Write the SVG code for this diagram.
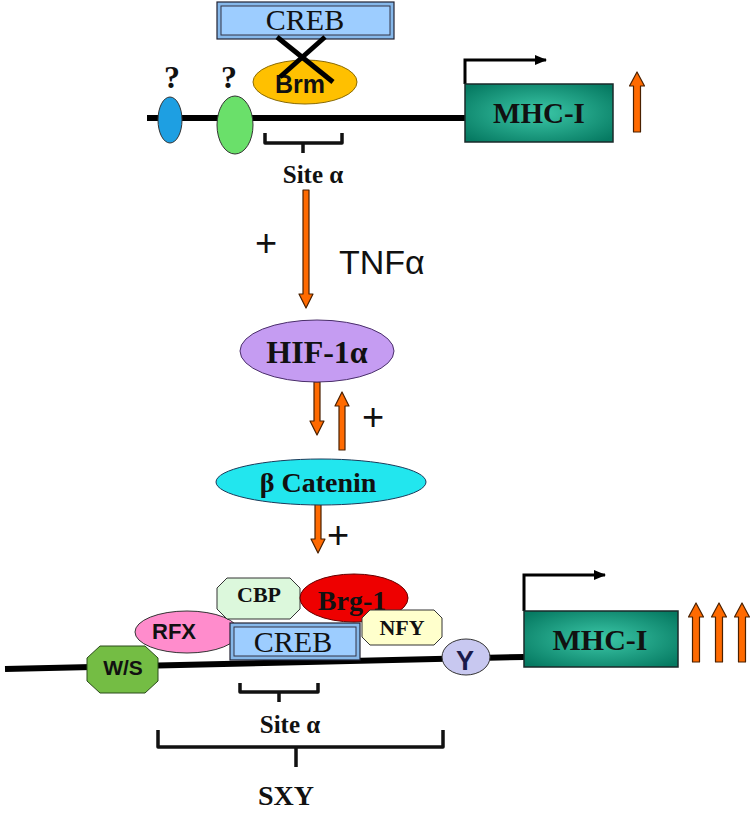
<svg xmlns="http://www.w3.org/2000/svg" width="750" height="813" viewBox="0 0 750 813">
<defs>
<radialGradient id="teal" cx="50%" cy="50%" r="65%">
<stop offset="0" stop-color="#3cc8a8"/>
<stop offset="1" stop-color="#067a62"/>
</radialGradient>
<marker id="tri" markerWidth="12" markerHeight="10" refX="11" refY="5" orient="auto" markerUnits="userSpaceOnUse">
<path d="M0,0 L12,5 L0,10 Z" fill="#000"/>
</marker>
</defs>
<style>
.dna{stroke:#000;stroke-width:6;fill:none}
.brk{stroke:#111;stroke-width:3.5;fill:none;stroke-linejoin:round}
.prom{stroke:#000;stroke-width:3;fill:none}
.oa{fill:#ff6a00;stroke:#4a2000;stroke-width:1.2;stroke-linejoin:round}
.sb{font-family:"Liberation Serif",serif;font-weight:bold;fill:#111;text-anchor:middle}
.sr{font-family:"Liberation Serif",serif;fill:#111;text-anchor:middle}
.ab{font-family:"Liberation Sans",Arial,sans-serif;font-weight:bold;fill:#111;text-anchor:middle}
.ar{font-family:"Liberation Sans",Arial,sans-serif;fill:#111;text-anchor:middle}
.ol{stroke:#333;stroke-width:1}
.creb-o{fill:#86b8ea;stroke:#223;stroke-width:1.2}
.creb-i{fill:#9dcdff;stroke:#334;stroke-width:1}
.mhc{fill:url(#teal);stroke:#1a2a2a;stroke-width:1.5}
</style>

<!-- top region -->
<line class="dna" x1="147" y1="118" x2="466" y2="118"/>
<g id="q1"><ellipse cx="170" cy="120" rx="12" ry="23" fill="#1e9fe2" class="ol"/><text class="sb" x="172" y="88" font-size="32">?</text></g>
<g id="q2"><ellipse cx="235" cy="125" rx="18" ry="29" fill="#6ae06a" class="ol"/><text class="sb" x="229" y="88" font-size="32">?</text></g>
<g id="creb-top">
<rect class="creb-o" x="217" y="2" width="177" height="37"/>
<rect class="creb-i" x="221" y="6" width="169" height="29"/>
<text class="sr" x="305" y="30" font-size="30">CREB</text>
</g>
<g id="brm">
<ellipse cx="305" cy="82" rx="52" ry="22" fill="#ffc000" stroke="#8a6a00" stroke-width="1"/>
<text class="ab" x="300" y="93" font-size="25">Brm</text>
<line x1="277" y1="37" x2="333" y2="82" stroke="#000" stroke-width="5"/>
<line x1="325" y1="37" x2="280" y2="77" stroke="#000" stroke-width="5"/>
</g>
<g id="mhc-top">
<path class="prom" d="M465,84 V60 H546" marker-end="url(#tri)"/>
<rect class="mhc" x="465" y="84" width="148" height="58"/>
<text class="sb" x="539" y="123" font-size="29">MHC-I</text>
</g>
<path class="brk" d="M265,133 V143 H342 V133 M303,143 V153"/>
<text class="sb" x="313" y="183" font-size="25">Site α</text>

<!-- connectors -->
<g id="connectors">
<path class="oa" d="M303,190 H309 V294 H313 L306,308 L299,294 H303 Z"/>
<path class="oa" d="M314,382 H320 V421 H324 L317,435 L310,421 H314 Z"/>
<path class="oa" d="M339,450 H345 V406 H349 L342,392 L335,406 H339 Z"/>
<path class="oa" d="M315,503 H321 V539 H325 L318,553 L311,539 H315 Z"/>
<path class="oa" d="M633.5,132 H640.5 V86 H644.5 L637,72 L629.5,86 H633.5 Z"/>
<path class="oa" d="M692.5,662 H699.5 V617 H703.5 L696,603 L688.5,617 H692.5 Z"/>
<path class="oa" d="M715.5,662 H722.5 V617 H726.5 L719,603 L711.5,617 H715.5 Z"/>
<path class="oa" d="M738.5,662 H745.5 V617 H749.5 L742,603 L734.5,617 H738.5 Z"/>
</g>
<text class="ar" x="266" y="256" font-size="38">+</text>
<text class="ar" x="339" y="274" font-size="34" style="text-anchor:start">TNFα</text>
<text class="ar" x="373" y="430" font-size="38">+</text>
<text class="ar" x="338" y="548" font-size="38">+</text>

<g id="hif">
<ellipse cx="317" cy="351" rx="77" ry="31" fill="#c59cf2" stroke="#4a2f6a" stroke-width="1"/>
<text class="sb" x="317" y="363" font-size="32">HIF-1α</text>
</g>
<g id="catenin">
<ellipse cx="321" cy="482" rx="105" ry="23" fill="#22e6ee" stroke="#1a3a5a" stroke-width="1"/>
<text class="sb" x="318" y="492" font-size="28">β Catenin</text>
</g>

<!-- bottom region -->
<line class="dna" x1="5" y1="669" x2="524" y2="657"/>
<g id="ws">
<polygon points="100,646 145,646 158,658 158,681 145,693 100,693 87,681 87,658" fill="#74bd44" stroke="#2a4a1a" stroke-width="1"/>
<text class="ab" x="123" y="675" font-size="21">W/S</text>
</g>
<g id="rfx">
<ellipse cx="187" cy="632" rx="52" ry="21" fill="#ff8ccc" stroke="#333" stroke-width="1"/>
<text class="ab" x="174" y="639" font-size="22">RFX</text>
</g>
<g id="cbp">
<polygon points="227,578 290,578 300,588 300,609 290,619 227,619 217,609 217,588" fill="#dcf8dc" stroke="#333" stroke-width="1"/>
<text class="sb" x="259" y="602" font-size="22">CBP</text>
</g>
<g id="brg1">
<ellipse cx="354" cy="598" rx="54" ry="24" fill="#ee0000" stroke="#600" stroke-width="1"/>
<text class="sb" x="352" y="610" font-size="28">Brg-1</text>
</g>
<g id="creb-bottom">
<rect class="creb-o" x="230" y="623" width="130" height="37"/>
<rect class="creb-i" x="234" y="627" width="122" height="29"/>
<text class="sr" x="293" y="652" font-size="30">CREB</text>
</g>
<g id="nfy">
<polygon points="370,610 434,610 442,618 442,637 434,645 370,645 362,637 362,618" fill="#ffffcc" stroke="#333" stroke-width="1"/>
<text class="sb" x="402" y="635" font-size="22">NFY</text>
</g>
<g id="y">
<ellipse cx="466" cy="657" rx="24" ry="18" fill="#c8c8f0" stroke="#333" stroke-width="1"/>
<text class="ab" x="465" y="670" font-size="27" style="fill:#1a1a4a">Y</text>
</g>
<g id="mhc-bottom">
<path class="prom" d="M524,611 V575 H605" marker-end="url(#tri)"/>
<rect class="mhc" x="524" y="611" width="154" height="56"/>
<text class="sb" x="600" y="650" font-size="30">MHC-I</text>
</g>
<path class="brk" d="M240,683 V692 H318 V683 M279,692 V702"/>
<text class="sb" x="290" y="733" font-size="25">Site α</text>
<path class="brk" d="M158,730 V747 H443 V730 M296,747 V767"/>
<text class="sb" x="286" y="805" font-size="28">SXY</text>
</svg>
